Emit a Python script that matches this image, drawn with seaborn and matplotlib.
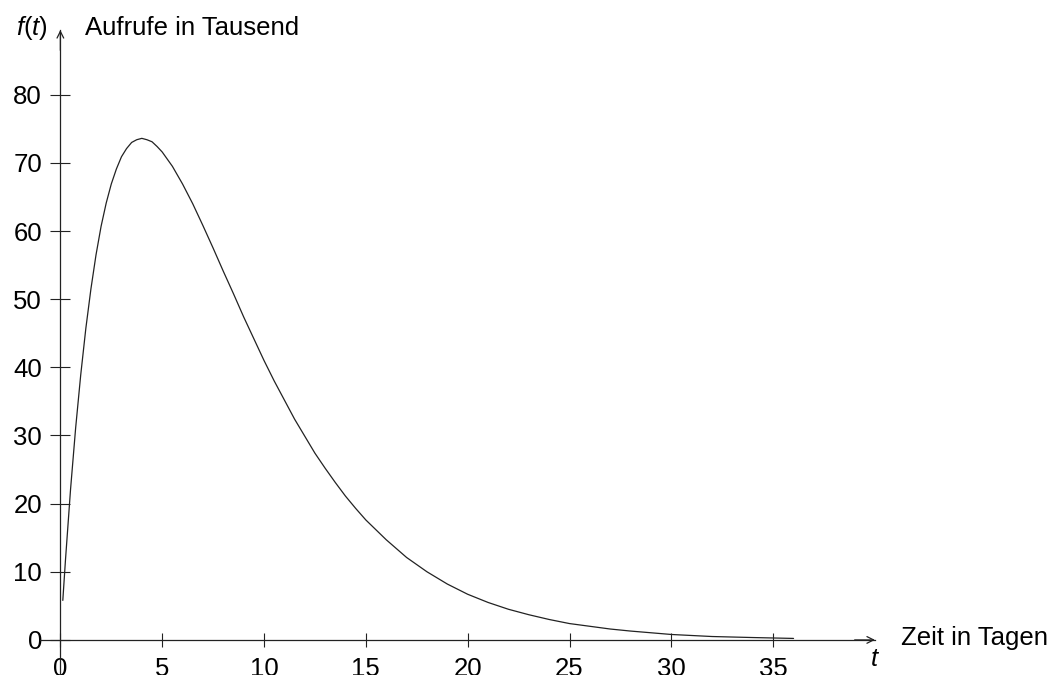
import numpy as np
import pandas as pd
import seaborn as sns
from matplotlib import pyplot as plt

# values (t in days, calls in thousands)
t_days = [0.12, 0.25, 0.5, 0.75, 1, 1.25, 1.5, 1.75, 2, 2.25, 2.5, 2.75, 3, 3.25, 3.5, 3.75,
          4, 4.25, 4.5, 4.75, 5, 5.5, 6, 6.5, 7, 7.5, 8, 8.5, 9, 9.5, 10, 10.5, 11, 11.5,
          12, 12.5, 13, 13.5, 14, 14.5, 15, 16, 17, 18, 19, 20, 21, 22, 23, 24, 25, 26,
          27, 28, 30, 32, 34, 36]
calls = [5.8, 11.7, 22.1, 31.1, 38.9, 45.7, 51.5, 56.5, 60.7, 64.1, 66.9, 69.1, 70.9, 72.1, 73.0, 73.4,
         73.6, 73.4, 73.1, 72.4, 71.6, 69.5, 66.9, 64.0, 60.8, 57.5, 54.1, 50.8, 47.4, 44.2, 41.0, 38.0, 35.2, 32.4,
         29.9, 27.4, 25.2, 23.1, 21.1, 19.3, 17.6, 14.7, 12.1, 10.0, 8.2, 6.7, 5.5, 4.5, 3.7, 3.0, 2.4, 2.0,
         1.6, 1.3, 0.8, 0.5, 0.35, 0.22]

x_ticks = [0, 5, 10, 15, 20, 25, 30, 35]
y_ticks = [0, 10, 20, 30, 40, 50, 60, 70, 80]

sns.set_style("white")
plt.rcParams['font.family'] = ['Liberation Sans', 'DejaVu Sans']
plt.rcParams['mathtext.fontset'] = 'custom'
plt.rcParams['mathtext.rm'] = 'Liberation Sans'
plt.rcParams['mathtext.it'] = 'Liberation Sans:italic'
plt.rcParams['text.color'] = 'black'
plt.rcParams['xtick.labelcolor'] = 'black'
plt.rcParams['ytick.labelcolor'] = 'black'

fig = plt.figure(figsize=(10.55, 6.75), dpi=100)
ax = fig.add_axes([40 / 1055, 1 / 675, 835 / 1055, 644 / 675])

df = pd.DataFrame({'t': t_days, 'f': calls})
sns.lineplot(data=df, x='t', y='f', ax=ax, color='#222222', linewidth=0.9)

ax.set_xlim(-1, 40)
ax.set_ylim(-5, 89.5)

for side in ['top', 'right']:
    ax.spines[side].set_visible(False)
ax.spines['left'].set_position(('data', 0))
ax.spines['bottom'].set_position(('data', 0))
for side in ['left', 'bottom']:
    ax.spines[side].set_color('#222222')
    ax.spines[side].set_linewidth(0.9)

ax.set_xticks(x_ticks)
ax.set_yticks(y_ticks)
ax.tick_params(axis='y', left=True, direction='inout', length=14.4, width=0.8, pad=6,
               labelsize=18.5, color='#222222', labelcolor='black')
ax.tick_params(axis='x', bottom=True, direction='inout', length=10, width=0.8, pad=7,
               labelsize=18.5, color='#222222', labelcolor='black')
ax.set_xlabel('')
ax.set_ylabel('')

# arrow heads
ax.annotate('', xy=(40, 0), xytext=(39.0, 0),
            arrowprops=dict(arrowstyle='->', lw=0.9, color='#222222',
                            mutation_scale=12, shrinkA=0, shrinkB=0),
            annotation_clip=False)
ax.annotate('', xy=(0, 89.5), xytext=(0, 86.5),
            arrowprops=dict(arrowstyle='->', lw=0.9, color='#222222',
                            mutation_scale=12, shrinkA=0, shrinkB=0),
            annotation_clip=False)

ax.text(-0.6, 89.8, r'$f(t)$', fontsize=18.5, ha='right', va='center')
ax.text(1.2, 89.8, 'Aufrufe in Tausend', fontsize=18.5, ha='left', va='center')
ax.text(40.0, -1.0, r'$t$', fontsize=18.5, ha='center', va='top')
ax.text(41.3, 0.3, 'Zeit in Tagen', fontsize=18.5, ha='left', va='center')

plt.savefig('out.png', dpi=100)
